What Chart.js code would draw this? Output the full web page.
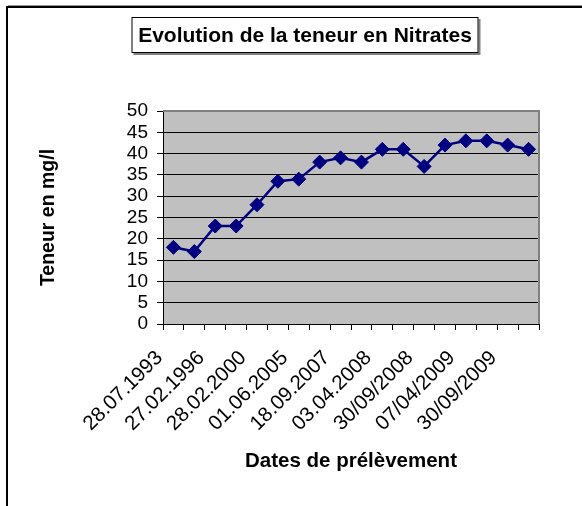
<!DOCTYPE html>
<html>
<head>
<meta charset="utf-8">
<script src="https://cdn.jsdelivr.net/npm/chart.js@4/dist/chart.umd.min.js"></script>
<style>
  html, body { margin: 0; padding: 0; background: #fff; }
  #wrap { width: 582px; height: 506px; position: relative; }
</style>
</head>
<body>
<div id="wrap"><canvas id="c" width="582" height="506"></canvas></div>
<script>
const chartTitle = 'Evolution de la teneur en Nitrates';
const yAxisTitle = 'Teneur en mg/l';
const xAxisTitle = 'Dates de prélèvement';
const categories = [
  '28.07.1993', '', '27.02.1996', '', '28.02.2000', '', '01.06.2005', '',
  '18.09.2007', '', '03.04.2008', '', '30/09/2008', '', '07/04/2009', '',
  '30/09/2009', ''
];
const nitrates = [18, 17, 23, 23, 28, 33.5, 34, 38, 39, 38, 41, 41, 37, 42, 43, 43, 42, 41];
const yMin = 0, yMax = 50, yStep = 5;

const FONT = "'Liberation Sans', Arial, sans-serif";

const framePlugin = {
  id: 'frame',
  beforeDraw(chart) {
    const { ctx, chartArea: a } = chart;
    ctx.save();
    ctx.fillStyle = '#ffffff';
    ctx.fillRect(0, 0, chart.width, chart.height);
    ctx.fillStyle = '#c0c0c0';
    ctx.fillRect(a.left, a.top, a.right - a.left, a.bottom - a.top);
    // outer page frame (top & left)
    ctx.strokeStyle = '#000';
    ctx.lineWidth = 2;
    ctx.beginPath();
    ctx.moveTo(7, chart.height);
    ctx.lineTo(7, 7);
    ctx.lineTo(chart.width, 7);
    ctx.stroke();
    ctx.strokeStyle = '#999';
    ctx.lineWidth = 1;
    ctx.beginPath();
    ctx.moveTo(8, 5.5);
    ctx.lineTo(chart.width, 5.5);
    ctx.stroke();
    ctx.restore();
  },
  beforeDatasetsDraw(chart) {
    const { ctx, chartArea: a } = chart;
    ctx.save();
    ctx.strokeStyle = '#808080';
    ctx.lineWidth = 2;
    ctx.beginPath();
    ctx.moveTo(a.left, a.top);
    ctx.lineTo(a.right, a.top);
    ctx.lineTo(a.right, a.bottom);
    ctx.stroke();
    ctx.restore();
  },
  afterDraw(chart) {
    const { ctx } = chart;
    ctx.save();
    ctx.font = "bold 21px " + FONT;
    ctx.textAlign = 'center';
    ctx.textBaseline = 'middle';
    const cx = 305, cy = 35;
    const bw = 347, bh = 36;
    const bx = cx - bw / 2, by = cy - bh / 2;
    // shadow
    ctx.fillStyle = '#808080';
    ctx.fillRect(bx + 2, by + 2, bw, bh);
    ctx.fillStyle = '#fff';
    ctx.fillRect(bx, by, bw, bh);
    ctx.strokeStyle = '#000';
    ctx.lineWidth = 1;
    ctx.strokeRect(bx + 0.5, by + 0.5, bw - 1, bh - 1);
    ctx.fillStyle = '#000';
    ctx.fillText(chartTitle, cx, cy + 1);
    ctx.restore();
  }
};

new Chart(document.getElementById('c'), {
  type: 'line',
  data: {
    labels: categories,
    datasets: [{
      data: nitrates,
      borderColor: '#000080',
      backgroundColor: '#000080',
      borderWidth: 2.5,
      pointStyle: 'rectRot',
      pointRadius: 7,
      pointHoverRadius: 7,
      pointBackgroundColor: '#000080',
      pointBorderColor: '#000080',
      pointBorderWidth: 1,
      tension: 0,
      fill: false
    }]
  },
  options: {
    responsive: false,
    animation: false,
    devicePixelRatio: 1,
    layout: { padding: { left: 0, right: 43, top: 111, bottom: 0 } },
    plugins: {
      legend: { display: false },
      title: { display: false },
      tooltip: { enabled: false }
    },
    scales: {
      x: {
        type: 'category',
        offset: true,
        afterFit(scale) { scale.height = 182; },
        grid: {
          offset: true,
          drawOnChartArea: false,
          drawTicks: true,
          tickLength: 6,
          tickColor: '#000',
          tickWidth: 1
        },
        border: { display: true, color: '#000', width: 1 },
        ticks: {
          autoSkip: false,
          minRotation: 45,
          maxRotation: 45,
          padding: 16,
          labelOffset: -14,
          color: '#000',
          font: { family: FONT, size: 20.5 }
        },
        title: {
          display: true,
          text: xAxisTitle,
          color: '#000',
          font: { family: FONT, size: 20.5, weight: 'bold' },
          padding: { top: 0, bottom: 32 }
        }
      },
      y: {
        min: yMin,
        max: yMax,
        afterFit(scale) { scale.width = 163; },
        grid: {
          color: (c) => (c.tick && c.tick.value === yMax) ? '#808080' : '#000',
          lineWidth: 1,
          drawTicks: true,
          tickLength: 6,
          tickColor: '#000'
        },
        border: { display: true, color: '#000', width: 1 },
        ticks: {
          autoSkip: false,
          stepSize: yStep,
          padding: 9,
          color: '#000',
          font: { family: FONT, size: 19 }
        },
        title: {
          display: true,
          text: yAxisTitle,
          color: '#000',
          font: { family: FONT, size: 19.5, weight: 'bold' },
          padding: { top: 37, bottom: 0 }
        }
      }
    }
  },
  plugins: [framePlugin]
});
</script>
</body>
</html>
